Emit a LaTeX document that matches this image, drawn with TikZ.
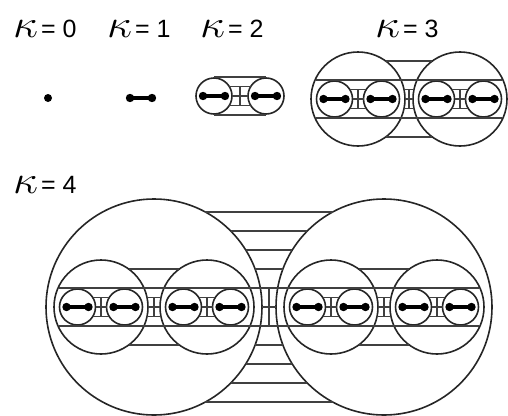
\documentclass[tikz,border=0pt]{standalone}
\usepackage{fontspec}
\setmainfont{Liberation Sans}
\usepackage{graphicx}
\newcommand{\kapsym}{\resizebox{25pt}{17pt}{$\kappa$}}

\begin{document}
\begin{tikzpicture}[
    x=1pt, y=-1pt,
    ring/.style={draw=black!85, line width=1.6pt},
    rung/.style={draw=black!75, line width=1.2pt},
    bondbar/.style={line width=4.6pt, line cap=round},
    lbl/.style={anchor=base west, inner sep=0pt, font=\fontsize{25}{25}\selectfont},
    pics/bond/.style={code={
        \draw[bondbar] (-11,0) -- (11,0);
        \fill (-11,0) circle[radius=4.2] (11,0) circle[radius=4.2];
    }},
    pics/cell/.style={code={
        \draw[ring] (0,0) circle[radius=18];
        \pic {bond};
    }},
    % #1 half distance of the two centres, #2 radius, #3 offsets, #4 half height of middle bar
    pics/ladder/.style n args={4}{code={
        \foreach \yy in {#3}{
            \draw[rung] ({-#1+sqrt(#2*#2-\yy*\yy)},\yy) -- ({#1-sqrt(#2*#2-\yy*\yy)},\yy)
                        ({-#1+sqrt(#2*#2-\yy*\yy)},-\yy) -- ({#1-sqrt(#2*#2-\yy*\yy)},-\yy);
        }
        \draw[rung] (0,-#4) -- (0,#4);
    }},
    pics/pair/.style={code={
        \pic at (-23.5,0) {cell};
        \pic at (23.5,0) {cell};
        \pic {ladder={23.5}{18}{0,9.5}{9.5}};
    }}
]
\useasboundingbox (0,0) rectangle (508,415);

% labels
\node[lbl] (k0) at (13,37) {\kapsym\kern3pt= 0};
\node[lbl] (k1) at (107,37) {\kapsym\kern3pt= 1};
\node[lbl] (k2) at (200,37) {\kapsym\kern3pt= 2};
\node[lbl] (k3) at (375,37) {\kapsym\kern3pt= 3};
\node[lbl] (k4) at (13,193) {\kapsym\kern3pt= 4};

% kappa = 0 and 1
\coordinate (p0) at (48,98);
\fill (p0) circle[radius=4];
\pic at (141,98) {bond};

% kappa = 2
\begin{scope}[shift={(240,96)}]
    \pic at (-26,0) {cell};
    \pic at (26,0) {cell};
    \pic {ladder={26}{18}{0,9.5}{9.5}};
    \draw[rung] (-26,-19) -- (26,-19) (-26,19) -- (26,19);
\end{scope}

% kappa = 3
\begin{scope}[shift={(409,99)}]
    \foreach \sx in {-1,1}{
        \draw[ring] (\sx*51,0) circle[radius=47];
        \pic at (\sx*51,0) {pair};
    }
    \pic {ladder={51}{47}{0,9.5,38}{9.5}};
    \draw[rung] (-93.4,-19) -- (93.4,-19) (-93.4,19) -- (93.4,19);
\end{scope}

% kappa = 4
\begin{scope}[shift={(269,307)}]
    \foreach \bx in {-1,1}{
        \draw[ring] (\bx*115,0) circle[radius=108];
        \foreach \sx in {-1,1}{
            \draw[ring] (\bx*115+\sx*53,0) circle[radius=47];
            \pic at (\bx*115+\sx*53,0) {pair};
        }
        \pic at (\bx*115,0) {ladder={53}{47}{0,9.5,38}{9.5}};
    }
    \pic {ladder={115}{108}{0,19,38,57,76,95}{19}};
    \draw[rung] (-210.4,-19) -- (210.4,-19) (-210.4,19) -- (210.4,19);
\end{scope}
\end{tikzpicture}
\end{document}
